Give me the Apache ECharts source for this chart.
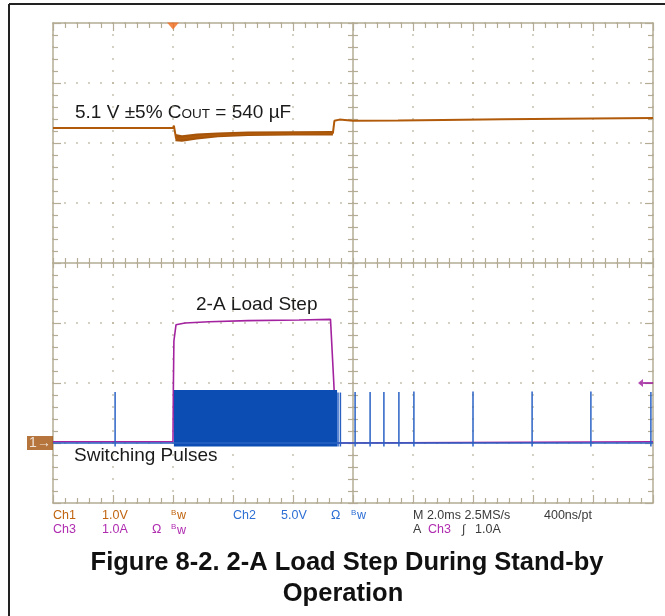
<!DOCTYPE html>
<html><head><meta charset="utf-8">
<script src="https://cdn.jsdelivr.net/npm/echarts/dist/echarts.min.js"></script>
<style>html,body{margin:0;padding:0;background:#fff}#c{width:665px;height:616px}</style>
</head><body><div id="c"></div>
<script>
// ---- Data (time in ms relative to trigger; 2 ms/div) ----
const timeRange = [-4, 16];
// Ch1: output voltage (V, 1.0 V/div)
const ch1Trace = [[-4,5.25],[0,5.25],[0.03,5.29],[0.1,5.08],[0.3,5.075],[0.8,5.11],[1.5,5.135],[2.5,5.15],[4,5.16],[5.33,5.163],[5.38,5.37],[5.55,5.39],[6,5.37],[7.5,5.375],[9,5.385],[11,5.395],[13,5.405],[16,5.415]];
const ch1BandUpper = [[0.08,5.15],[0.3,5.13],[0.8,5.16],[1.5,5.175],[2.5,5.19],[4,5.195],[5.33,5.2]];
const ch1BandLower = [[0.08,5.03],[0.3,5.02],[0.8,5.06],[1.5,5.095],[2.5,5.115],[4,5.125],[5.33,5.125]];
const ch1GroundMarker = [[-4, 0]];
const triggerPosition = [[0, 7]];
// Ch2: switching node (V, 5.0 V/div)
const ch2PulseTimes = [-1.93, 5.5, 5.58, 6.07, 6.57, 7.03, 7.53, 8.03, 10.0, 11.97, 13.93, 15.93];
const ch2PulsePeaks = [4.25, 4.2, 4.2, 4.25, 4.25, 4.25, 4.25, 4.3, 4.3, 4.3, 4.3, 4.25];
const ch2PulseDip = -0.3;
const ch2BurstTimes = [0.03, 5.47];
const ch2BurstLevels = [-0.3, 4.42];
// Ch3: load current (A, 1.0 A/div)
const ch3Trace = [[-4,0.02],[0,0.02],[0.01,0.8],[0.03,1.7],[0.1,1.97],[0.4,2.0],[1.2,2.02],[2.5,2.04],[4.2,2.05],[5.25,2.06],[5.3,2.05],[5.36,1.0],[5.45,0.0],[16,0.02]];
const triggerLevel = [[16, 1.0]];

// ---- Build ----
const ch2Line = [[timeRange[0], 0]];
ch2PulseTimes.forEach((t, i) => { ch2Line.push([t, 0], [t, ch2PulsePeaks[i]], [t, ch2PulseDip], [t, 0]); });
ch2Line.push([timeRange[1], 0]);

const GRAT = '#b4ac95';
const tickStyle = {color: GRAT, width: 1.2};
const dotted = {color: GRAT, width: 1.5, type: [1.5, 10.5], dashOffset: 0.75};
function xAx(pos, offset, inside, showLine, split, len) {
  return {type:'value', gridIndex:0, position:pos, offset:offset, min:timeRange[0], max:timeRange[1], interval:2,
    axisLabel:{show:false}, splitLine:{show:split, lineStyle:dotted},
    axisLine:{show:showLine, onZero:false, lineStyle:{color:GRAT, width:1.5}},
    axisTick:{show:true, inside:inside, length:len, lineStyle:tickStyle},
    minorTick:{show:true, splitNumber:5, length:5, lineStyle:tickStyle}};
}
function yAx(pos, offset, inside, showLine, split, len) {
  return {type:'value', gridIndex:0, position:pos, offset:offset, min:-4, max:4, interval:1,
    axisLabel:{show:false}, splitLine:{show:split, lineStyle:dotted},
    axisLine:{show:showLine, onZero:false, lineStyle:{color:GRAT, width:1.5}},
    axisTick:{show:true, inside:inside, length:len, lineStyle:tickStyle},
    minorTick:{show:true, splitNumber:5, length:5, lineStyle:tickStyle}};
}
function hidY(min, max) {
  return {type:'value', gridIndex:0, min:min, max:max, show:false, axisLine:{onZero:false}, splitLine:{show:false}};
}

const FONT = '"Liberation Sans", Arial, Helvetica, sans-serif';
const gfx = [];
function txt(x, y, text, color, size, extra) {
  gfx.push(Object.assign({type:'text', x:x, y:y, silent:true,
    style:Object.assign({text:text, fill:color, font:size + 'px ' + FONT, verticalAlign:'middle', align:'left'}, extra || {})}));
}
function bw(x, y, color) {
  txt(x, y - 3, 'B', color, 8);
  txt(x + 6, y + 0.5, 'w', color, 12.5);
}
// outer frame
gfx.push({type:'line', silent:true, shape:{x1:9, y1:4, x2:665, y2:4}, style:{stroke:'#222', lineWidth:2}});
gfx.push({type:'line', silent:true, shape:{x1:9, y1:4, x2:9, y2:616}, style:{stroke:'#222', lineWidth:2}});
// annotations
gfx.push({type:'text', x:75, y:112.5, silent:true, style:{
  text:'{a|5.1 V ±5% C}{s|OUT}{a| = 540 µF}', verticalAlign:'middle',
  rich:{a:{fontSize:19, fontFamily:FONT, fill:'#1a1a1a', verticalAlign:'bottom'}, s:{fontSize:13.5, fontFamily:FONT, fill:'#1a1a1a', verticalAlign:'bottom', padding:[0,0,1,0]}}}});
txt(196, 305, '2-A Load Step', '#1a1a1a', 19);
txt(74, 455.5, 'Switching Pulses', '#1a1a1a', 19);
// scope readout
const C1 = '#c0640f', C2 = '#2d6fd4', C3 = '#b02cb0', CG = '#3a3a3a';
const r1 = 515.5, r2 = 530;
txt(53, r1, 'Ch1', C1, 12.5); txt(102, r1, '1.0V', C1, 12.5); bw(171, r1, C1);
txt(233, r1, 'Ch2', C2, 12.5); txt(281, r1, '5.0V', C2, 12.5); txt(331, r1, 'Ω', C2, 12.5); bw(351, r1, C2);
txt(413, r1, 'M 2.0ms 2.5MS/s', CG, 12.5); txt(544, r1, '400ns/pt', CG, 12.5);
txt(53, r2, 'Ch3', C3, 12.5); txt(102, r2, '1.0A', C3, 12.5); txt(152, r2, 'Ω', C3, 12.5); bw(171, r2, C3);
txt(413, r2, 'A', CG, 12.5); txt(428, r2, 'Ch3', C3, 12.5); txt(462, r2, '∫', CG, 12); txt(475, r2, '1.0A', CG, 12.5);
// caption
gfx.push({type:'text', x:347, y:563, silent:true, style:{text:'Figure 8-2. 2-A Load Step During Stand-by', fill:'#111', font:'bold 25.5px ' + FONT, align:'center', verticalAlign:'middle'}});
gfx.push({type:'text', x:343, y:594, silent:true, style:{text:'Operation', fill:'#111', font:'bold 25.5px ' + FONT, align:'center', verticalAlign:'middle'}});

const option = {
  animation:false,
  grid:{left:53, top:23, width:600, height:480, outerBoundsMode:'none', containLabel:false},
  xAxis:[
    xAx('bottom', 0, true, true, true, 8),
    xAx('top', 0, true, true, false, 8),
    xAx('bottom', -240, true, true, false, 5),
    xAx('bottom', -240, false, false, false, 5)
  ],
  yAxis:[
    yAx('left', 0, true, true, true, 8),
    yAx('right', 0, true, true, false, 8),
    yAx('left', -300, true, true, false, 5),
    yAx('left', -300, false, false, false, 5),
    hidY(-1, 7),   // 4: Ch1 volts
    hidY(-5, 35),  // 5: Ch2 volts
    hidY(-1, 7)    // 6: Ch3 amps
  ],
  graphic: gfx,
  series:[
    {type:'line', name:'Ch3', xAxisIndex:0, yAxisIndex:6, data:ch3Trace, showSymbol:false, symbol:'none',
      lineStyle:{color:'#a3229f', width:1.6}, z:3},
    {type:'custom', name:'Ch2 burst', xAxisIndex:0, yAxisIndex:5, z:4,
      data:[[ch2BurstTimes[0], ch2BurstTimes[1], ch2BurstLevels[0], ch2BurstLevels[1]]],
      encode:{x:[0,1], y:[2,3]},
      renderItem:function(params, api){
        const p0 = api.coord([api.value(0), api.value(3)]);
        const p1 = api.coord([api.value(1), api.value(2)]);
        return {type:'rect', shape:{x:p0[0], y:p0[1], width:p1[0]-p0[0], height:p1[1]-p0[1]}, style:{fill:'#0b4db2'}};
      }},
    {type:'line', name:'Ch2', xAxisIndex:0, yAxisIndex:5, data:ch2Line, showSymbol:false, symbol:'none',
      lineStyle:{color:'#2a62c4', width:1.5}, z:5},
    {type:'custom', name:'Ch1 band', xAxisIndex:0, yAxisIndex:4, z:6,
      data:ch1BandUpper, encode:{x:0, y:1},
      renderItem:function(params, api){
        if (params.dataIndex !== 0) return null;
        const pts = ch1BandUpper.map(p => api.coord(p)).concat(ch1BandLower.slice().reverse().map(p => api.coord(p)));
        return {type:'polygon', shape:{points:pts}, style:{fill:'#a5540a'}};
      }},
    {type:'line', name:'Ch1', xAxisIndex:0, yAxisIndex:4, data:ch1Trace, showSymbol:false, symbol:'none',
      lineStyle:{color:'#b05a0a', width:2}, z:7},
    {type:'scatter', name:'Ch1 ground', xAxisIndex:0, yAxisIndex:4, data:ch1GroundMarker, clip:false, z:8,
      symbol:'rect', symbolSize:[26,14], symbolOffset:[-13,0], itemStyle:{color:'#a4520c'},
      label:{show:true, position:'inside', formatter:'1→', color:'#fff', fontSize:14, fontFamily:FONT}},
    {type:'scatter', name:'Trigger pos', xAxisIndex:0, yAxisIndex:4, data:triggerPosition, clip:false, z:8,
      symbol:'triangle', symbolRotate:180, symbolSize:[12,7], symbolOffset:[0,3], itemStyle:{color:'#f26b1d'}},
    {type:'scatter', name:'Trigger level', xAxisIndex:0, yAxisIndex:6, data:triggerLevel, clip:false, z:8,
      symbol:'path://M0,4 L5,0 L5,3 L15,3 L15,5 L5,5 L5,8 Z', symbolSize:[15,8], symbolOffset:[-7.5,0], itemStyle:{color:'#a020a0'}}
  ]
};
const chart = echarts.init(document.getElementById('c'), null, {renderer:'canvas'});
chart.setOption(option);
</script></body></html>
